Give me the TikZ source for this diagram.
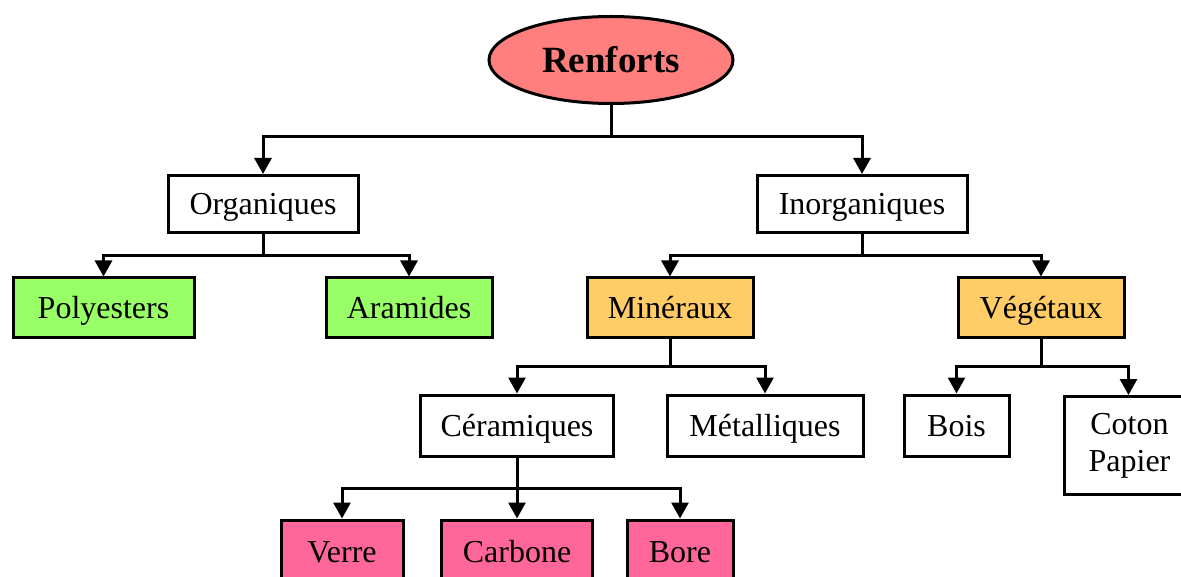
\documentclass[tikz,border=0pt]{standalone}
\usepackage{fontspec}
\setmainfont{Liberation Serif}
\usetikzlibrary{arrows.meta,shapes.geometric}
\definecolor{rootred}{HTML}{FF7F7F}
\definecolor{leafgreen}{HTML}{99FF66}
\definecolor{midorange}{HTML}{FFCC66}
\definecolor{leafpink}{HTML}{FF6699}
\tikzset{
  box/.style={draw=black, line width=3pt, fill=white, inner sep=0pt, align=center,
              text height=24pt, text depth=2pt,
              font=\fontsize{32}{37}\selectfont},
  rootnode/.style={draw=black, line width=3pt, ellipse, fill=rootred, inner sep=0pt,
              minimum width=244pt, minimum height=87pt,
              font=\fontsize{37}{40}\selectfont\bfseries},
  link/.style={line width=3pt, draw=black},
  arr/.style={link, -{Triangle[width=17pt,length=16pt]}},
}
\begin{document}
\begin{tikzpicture}[x=1pt,y=-1pt]
  \clip (0,0) rectangle (1181,577);
  \fill[white] (0,0) rectangle (1181,577);

  % root
  \node[rootnode] (ren) at (611,60) {Renforts};

  % first level
  \node[box, minimum width=190pt, minimum height=57pt] (org) at (263,204) {Organiques};
  \node[box, minimum width=210pt, minimum height=57pt] (inorg) at (862,204) {Inorganiques};

  % second level
  \node[box, fill=leafgreen, minimum width=181pt, minimum height=60pt] (poly) at (103.5,308) {Polyesters};
  \node[box, fill=leafgreen, minimum width=166pt, minimum height=60pt] (ara) at (409,308) {Aramides};
  \node[box, fill=midorange, minimum width=166pt, minimum height=60pt] (min) at (670,308) {Minéraux};
  \node[box, fill=midorange, minimum width=166pt, minimum height=60pt] (veg) at (1041,308) {Végétaux};

  % third level
  \node[box, minimum width=193pt, minimum height=61pt] (cer) at (517,425.5) {Céramiques};
  \node[box, minimum width=196pt, minimum height=61pt] (met) at (765,425.5) {Métalliques};
  \node[box, minimum width=105pt, minimum height=61pt] (bois) at (956.5,425.5) {Bois};
  \node[box, text height=, text depth=, minimum width=130pt, minimum height=98pt,
        anchor=north west] (coton) at (1063,395) {Coton\\Papier};

  % fourth level
  \node[box, fill=leafpink, minimum width=122pt, minimum height=62pt] (verre) at (342,551) {Verre};
  \node[box, fill=leafpink, minimum width=151pt, minimum height=62pt] (carb) at (517,551) {Carbone};
  \node[box, fill=leafpink, minimum width=106pt, minimum height=62pt] (bore) at (680,551) {Bore};

  % junction points
  \coordinate (j1) at (611,137);
  \coordinate (j2) at (263,256);
  \coordinate (j3) at (862,256);
  \coordinate (j4) at (670,366);
  \coordinate (j5) at (1041,366);
  \coordinate (j6) at (517,488);

  % connectors
  \draw[link] (ren.south) -- (j1);
  \draw[arr] (j1) -| (org.north);
  \draw[arr] (j1) -| (inorg.north);

  \draw[link] (org.south) -- (j2);
  \draw[arr] (j2) -| (poly.north);
  \draw[arr] (j2) -| (ara.north);

  \draw[link] (inorg.south) -- (j3);
  \draw[arr] (j3) -| (min.north);
  \draw[arr] (j3) -| (veg.north);

  \draw[link] (min.south) -- (j4);
  \draw[arr] (j4) -| (cer.north);
  \draw[arr] (j4) -| (met.north);

  \draw[link] (veg.south) -- (j5);
  \draw[arr] (j5) -| (bois.north);
  \draw[arr] (j5) -| ([xshift=-1pt]coton.north);

  \draw[link] (cer.south) -- (j6);
  \draw[arr] (j6) -| (verre.north);
  \draw[arr] (j6) -- (carb.north);
  \draw[arr] (j6) -| (bore.north);
\end{tikzpicture}
\end{document}
